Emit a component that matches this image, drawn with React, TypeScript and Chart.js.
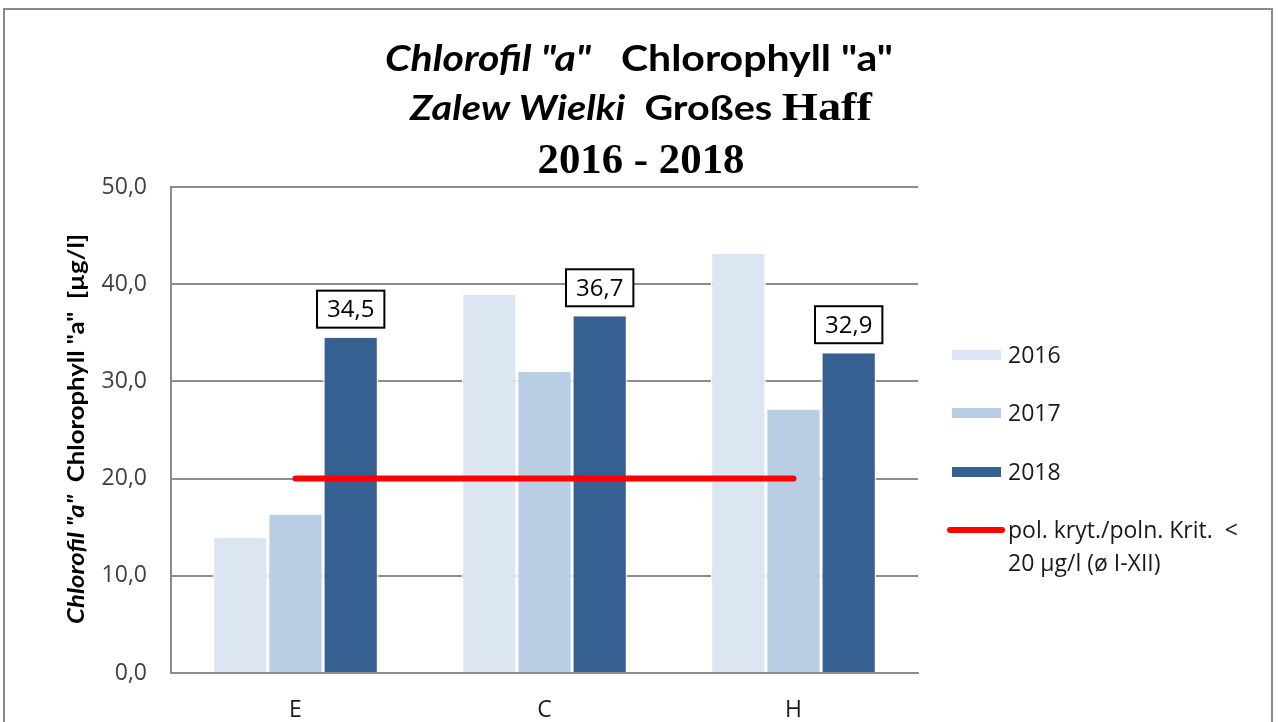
import React, { useEffect, useRef } from 'react';
import { Chart, registerables } from 'chart.js';

Chart.register(...registerables);

// ---------- data ----------
const categories = ['E', 'C', 'H'];
const seriesLabels = ['2016', '2017', '2018'];
const values2016 = [13.9, 38.9, 43.1];
const values2017 = [16.3, 31.0, 27.1];
const values2018 = [34.5, 36.7, 32.9];
const criterionValues = [20, 20, 20];
const criterionLabelLines = ['pol. kryt./poln. Krit.  <', '20 µg/l (ø I-XII)'];
const yTickLabels = ['0,0', '10,0', '20,0', '30,0', '40,0', '50,0'];
const dataLabels2018 = ['34,5', '36,7', '32,9'];

const titleLine1 = [
  { text: 'Chlorofil "a"', style: 'italic bold', serif: false },
  { text: '   Chlorophyll "a"', style: 'bold', serif: false },
];
const titleLine2 = [
  { text: 'Zalew Wielki', style: 'italic bold', serif: false },
  { text: '  Großes ', style: 'bold', serif: false },
  { text: 'Haff', style: 'bold', serif: true },
];
const titleLine3 = [{ text: '2016 - 2018', style: 'bold', serif: true }];
const yTitleSegments = [
  { text: 'Chlorofil "a"', style: 'italic bold', serif: false },
  { text: '  Chlorophyll "a"  [µg/l]', style: 'bold', serif: false },
];

// ---------- styles ----------
const SANS = 'Lato, "Open Sans", sans-serif';
const SERIF = '"Liberation Serif", "DejaVu Serif", serif';
const TICK_FONT = '"Open Sans", sans-serif';
const colors = ['#dce6f2', '#b9cde5', '#376092'];
const red = '#ff0000';
const gridColor = '#8c8c8c';

type Seg = { text: string; style: string; serif: boolean };

function drawSegments(
  ctx: CanvasRenderingContext2D,
  segs: Seg[],
  sansSize: number,
  serifSize: number,
  targetWidth: number
) {
  let total = 0;
  const widths: number[] = [];
  for (const s of segs) {
    ctx.font = `${s.style} ${s.serif ? serifSize : sansSize}px ${s.serif ? SERIF : SANS}`;
    const w = ctx.measureText(s.text).width;
    widths.push(w);
    total += w;
  }
  const sx = targetWidth / total;
  ctx.save();
  ctx.translate(-targetWidth / 2, 0);
  ctx.scale(sx, 1);
  let x = 0;
  segs.forEach((s, i) => {
    ctx.font = `${s.style} ${s.serif ? serifSize : sansSize}px ${s.serif ? SERIF : SANS}`;
    ctx.fillText(s.text, x, 0);
    x += widths[i];
  });
  ctx.restore();
}

const decorPlugin = {
  id: 'decor',
  afterDraw(chart: any) {
    const ctx: CanvasRenderingContext2D = chart.ctx;
    ctx.save();
    ctx.fillStyle = '#000';
    ctx.textAlign = 'left';
    ctx.textBaseline = 'alphabetic';
    // title
    const lines = [
      { segs: titleLine1, sans: 37, serif: 40, w: 508, cx: 639, base: 71 },
      { segs: titleLine2, sans: 35, serif: 41, w: 462, cx: 641, base: 120 },
      { segs: titleLine3, sans: 35, serif: 42, w: 207, cx: 641, base: 173 },
    ];
    for (const l of lines) {
      ctx.save();
      ctx.translate(l.cx, l.base);
      drawSegments(ctx, l.segs, l.sans, l.serif, l.w);
      ctx.restore();
    }
    // y axis title
    ctx.save();
    ctx.translate(77, 429);
    ctx.rotate(-Math.PI / 2);
    ctx.textBaseline = 'middle';
    drawSegments(ctx, yTitleSegments, 22, 22, 390);
    ctx.restore();

    // legend
    const ds = chart.data.datasets;
    const rows = [355, 413, 472, 530];
    ctx.font = `23px ${TICK_FONT}`;
    ctx.textBaseline = 'middle';
    for (let i = 0; i < 3; i++) {
      ctx.fillStyle = ds[i].backgroundColor;
      ctx.fillRect(952, rows[i] - 5, 49, 10);
      ctx.fillStyle = '#1a1a1a';
      ctx.fillText(ds[i].label, 1008, rows[i] + 1);
    }
    ctx.strokeStyle = ds[3].borderColor;
    ctx.lineWidth = 6;
    ctx.lineCap = 'round';
    ctx.beginPath();
    ctx.moveTo(950, rows[3]);
    ctx.lineTo(1002, rows[3]);
    ctx.stroke();
    ctx.fillStyle = '#1a1a1a';
    const lbl = String(ds[3].label).split('\n');
    lbl.forEach((t, k) => ctx.fillText(t, 1008, rows[3] + 1 + k * 33));
    ctx.restore();
  },
  afterDatasetsDraw(chart: any) {
    const ctx: CanvasRenderingContext2D = chart.ctx;
    const meta = chart.getDatasetMeta(2);
    ctx.save();
    ctx.font = `24px ${TICK_FONT}`;
    ctx.textAlign = 'center';
    ctx.textBaseline = 'middle';
    meta.data.forEach((bar: any, i: number) => {
      const text = dataLabels2018[i];
      const tw = ctx.measureText(text).width;
      const bw = tw + 20;
      const bh = 37;
      const bottom = bar.y - 10;
      const left = bar.x - bw / 2;
      ctx.fillStyle = '#fff';
      ctx.fillRect(left, bottom - bh, bw, bh);
      ctx.strokeStyle = '#000';
      ctx.lineWidth = 2;
      ctx.strokeRect(left, bottom - bh, bw, bh);
      ctx.fillStyle = '#000';
      ctx.fillText(text, bar.x, bottom - bh / 2 + 1);
    });
    ctx.restore();
  },
};

export default function App() {
  const ref = useRef<HTMLCanvasElement>(null);
  useEffect(() => {
    document.body.style.margin = '0';
    document.body.style.overflow = 'hidden';
    const barCommon = {
      type: 'bar' as const,
      barPercentage: 1,
      categoryPercentage: 0.665,
      borderColor: '#ffffff',
      borderWidth: { left: 1.5, right: 1.5, top: 0, bottom: 0 },
      borderSkipped: false,
      order: 1,
    };
    const chart = new Chart(ref.current!, {
      type: 'bar',
      data: {
        labels: categories,
        datasets: [
          { ...barCommon, label: seriesLabels[0], data: values2016, backgroundColor: colors[0] },
          { ...barCommon, label: seriesLabels[1], data: values2017, backgroundColor: colors[1] },
          { ...barCommon, label: seriesLabels[2], data: values2018, backgroundColor: colors[2] },
          {
            type: 'line',
            label: criterionLabelLines.join('\n'),
            data: criterionValues,
            borderColor: red,
            backgroundColor: red,
            borderWidth: 6,
            borderCapStyle: 'round',
            pointRadius: 0,
            order: 0,
          } as any,
        ],
      },
      options: {
        animation: false,
        responsive: true,
        maintainAspectRatio: false,
        layout: { padding: { top: 187, right: 1279 - 918, left: 0, bottom: 0 } },
        plugins: { legend: { display: false }, title: { display: false }, tooltip: { enabled: false } },
        scales: {
          x: {
            grid: { display: false },
            border: { display: true, color: gridColor, width: 2 },
            ticks: { font: { family: TICK_FONT, size: 23 }, color: '#1a1a1a', padding: 16 },
            afterFit: (s: any) => {
              s.height = 49;
            },
          },
          y: {
            min: 0,
            max: 50,
            ticks: {
              stepSize: 10,
              padding: 24,
              font: { family: TICK_FONT, size: 23 },
              color: '#404040',
              callback: (_v: any, i: number) => yTickLabels[i],
            },
            grid: { color: gridColor, lineWidth: 2, drawTicks: false },
            border: { display: true, color: gridColor, width: 2 },
            afterFit: (s: any) => {
              s.width = 171;
            },
          },
        },
      },
      plugins: [decorPlugin],
    });
    return () => chart.destroy();
  }, []);
  return (
    <div style={{ position: 'relative', width: 1279, height: 722, background: '#fff', overflow: 'hidden' }}>
      <div
        style={{
          position: 'absolute',
          left: 3,
          top: 8,
          width: 1270,
          height: 760,
          border: '2px solid #8a8a8a',
          boxSizing: 'border-box',
        }}
      />
      <canvas ref={ref} style={{ position: 'absolute', left: 0, top: 0, width: 1279, height: 722 }} />
    </div>
  );
}
